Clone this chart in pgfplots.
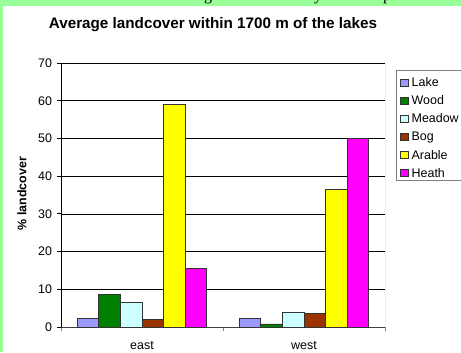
\documentclass[border=0pt]{standalone}
\usepackage{fontspec}
\setmainfont{Liberation Sans}
\newfontfamily\pageserif{Liberation Serif}
\usepackage{pgfplots}
\pgfplotsset{compat=1.18}

\definecolor{pagegreen}{HTML}{99FF99}
\definecolor{lakecol}{HTML}{9999FF}
\definecolor{woodcol}{HTML}{008000}
\definecolor{meadowcol}{HTML}{CCFFFF}
\definecolor{bogcol}{HTML}{993300}
\definecolor{arablecol}{HTML}{FFFF00}
\definecolor{heathcol}{HTML}{FF00FF}
\definecolor{framegray}{HTML}{808080}

% average landcover (%) within 1700 m, per lake group (0 = east, 1 = west)
\pgfplotstableread{
grp lake wood meadow bog arable heath
0   2.2  8.7  6.5    2.0 59.0   15.5
1   2.2  0.8  3.9    3.6 36.4   50.0
}\landcover

\begin{document}
\begin{tikzpicture}[x=1bp,y=1bp]
\clip (0,0) rectangle (461,352);
\fill[pagegreen] (0,0) rectangle (461,352);
\fill[white] (3,0) rectangle (461,346);
% descenders of the running text above the chart
\begin{scope}
  \clip (0,346) rectangle (461,352);
  \node[anchor=base, inner sep=0pt, font=\pageserif\fontsize{16}{18}\selectfont] at (208,351.5) {g};
  \node[anchor=base, inner sep=0pt, font=\pageserif\fontsize{16}{18}\selectfont] at (318,351.5) {y};
  \node[anchor=base, inner sep=0pt, font=\pageserif\fontsize{16}{18}\selectfont] at (387,351.5) {p};
\end{scope}
\begin{axis}[
  at={(61bp,25bp)}, anchor=south west,
  scale only axis, width=324bp, height=264bp,
  ybar=0pt, bar width=21.6bp,
  xmin=-0.5, xmax=1.5, ymin=0, ymax=70,
  xtick={0,1}, xticklabels={east,west},
  minor xtick={-0.5,0.5,1.5},
  ytick={0,10,...,70},
  tick align=outside,
  major x tick style={draw=none},
  minor x tick style={draw=framegray, line width=0.8bp},
  minor tick length=4bp,
  major y tick style={draw=black, line width=0.8bp},
  major tick length=4bp,
  axis x line*=bottom, axis y line*=left,
  x axis line style={-, draw=black!75, line width=0.9bp},
  y axis line style={-, draw=black, line width=0.9bp},
  ymajorgrids, major grid style={draw=black, line width=0.7bp},
  ticklabel style={font=\fontsize{12.5}{14}\selectfont},
  /pgf/number format/assume math mode=true,
  yticklabel style={xshift=-1.5bp},
  xticklabel style={yshift=-7bp},
  ylabel={\% landcover},
  ylabel style={at={(axis description cs:-0.1204,0.505)}, anchor=center,
    font=\bfseries\fontsize{12.5}{14}\selectfont},
  every axis title shift=0pt,
  title={Average landcover within 1700 m of the lakes},
  title style={at={(axis description cs:0.469,1.144)}, anchor=center,
    font=\bfseries\fontsize{15.3}{18}\selectfont},
  every axis plot/.append style={draw=black!80, line width=0.8bp},
  legend image code/.code={\draw[#1, draw=black!80, line width=0.7bp] (0bp,-6bp) rectangle (7.5bp,1bp);},
  legend cell align=left,
  legend style={at={(rel axis cs:1.034,0.9735)}, anchor=north west,
    draw=framegray, line width=0.9bp, fill=white,
    font=\fontsize{12.5}{14}\selectfont,
    nodes={inner sep=0pt, text height=14.2bp, text depth=1.3bp},
    row sep=2.6bp, inner xsep=4bp, inner ysep=2bp,
    /tikz/every odd column/.append style={column sep=3bp}},
]
\addplot[fill=lakecol]   table[x=grp, y=lake]   {\landcover};
\addplot[fill=woodcol]   table[x=grp, y=wood]   {\landcover};
\addplot[fill=meadowcol] table[x=grp, y=meadow] {\landcover};
\addplot[fill=bogcol]    table[x=grp, y=bog]    {\landcover};
\addplot[fill=arablecol] table[x=grp, y=arable] {\landcover};
\addplot[fill=heathcol]  table[x=grp, y=heath]  {\landcover};
\legend{Lake, Wood, Meadow, Bog, Arable, Heath}
\draw[framegray, line width=0.9bp] (rel axis cs:1,0) -- (rel axis cs:1,1);
\end{axis}
\end{tikzpicture}
\end{document}
